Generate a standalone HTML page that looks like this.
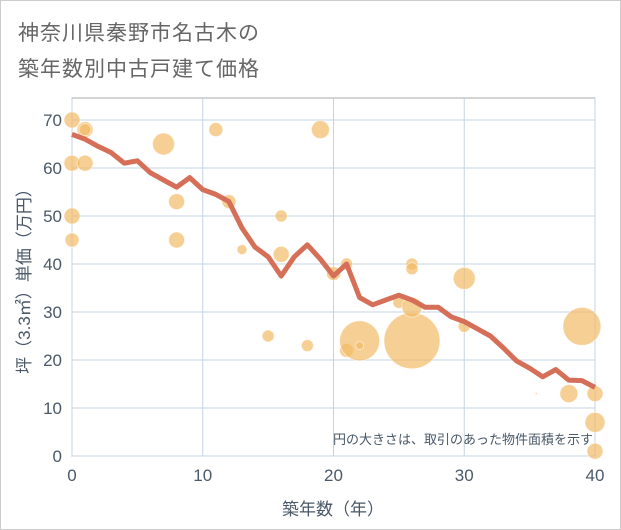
<!DOCTYPE html>
<html><head><meta charset="utf-8"><style>
body{margin:0;background:#fff;}
#wrap{position:relative;width:619px;height:528px;border:1px solid #ccc;background:#fff;font-family:"Liberation Sans","Noto Sans CJK JP",sans-serif;}
.title{position:absolute;left:17px;color:#666;font-size:21px;letter-spacing:1px;}
</style></head><body>
<div id="wrap">
<div class="title" style="top:16px">神奈川県秦野市名古木の</div>
<div class="title" style="top:52px">築年数別中古戸建て価格</div>
<svg id="chart" width="621" height="530" style="position:absolute;left:-1px;top:-1px"></svg>
</div>
<script>
const xTicks=[0,10,20,30,40];
const yTicks=[0,10,20,30,40,50,60,70];
const lineYears=[0,1,2,3,4,5,6,7,8,9,10,11,12,13,14,15,16,17,18,19,20,21,22,23,24,25,26,27,28,29,30,31,32,33,34,35,36,37,38,39,40];
const linePrices=[67,66,64.5,63.2,61,61.5,59,57.5,56,58,55.5,54.5,53,47.5,43.5,41.5,37.5,41.5,44,41,37.5,40,33,31.5,32.5,33.5,32.5,31,31,29,28,26.5,25,22.5,19.8,18.3,16.5,18,15.8,15.7,14.3];
const bubbleYears=[0,1,1,0,1,0,0,7,8,8,11,12,13,16,16,15,18,19,20,21,21,22,22,25,26,26,26,26,30,30,38,39,40,40,40,35.5];
const bubblePrices=[70,68,68,61,61,50,45,65,53,45,68,53,43,50,42,25,23,68,38,40,22,24,23,32,40,39,24,31,37,27,13,27,13,7,1,13];
const bubbleSizes=[8,8,6,8,8,8,7,11,8,8,7,7,5,6,8,6,6,9,7,6,7,20,4,6,6,6,28,10,11,6,9,19,8,10,8,1];
const svg=document.getElementById('chart');const NS='http://www.w3.org/2000/svg';
const X0=72,X1=595,Y0=456,Y1=120;
const xs=v=>X0+(X1-X0)*v/40, ys=v=>Y0-(Y0-Y1)*v/70;
function mk(t,a,p){const e=document.createElementNS(NS,t);for(const k in a)e.setAttribute(k,a[k]);(p||svg).appendChild(e);return e;}
const frame=mk('rect',{x:X0,y:98,width:X1-X0,height:Y0-98,fill:'none',stroke:'#aaa'});


xTicks.forEach(t=>{const l=mk('line',{x1:xs(t),x2:xs(t),y1:98,y2:Y0,stroke:'#c5d3e0'});


const tx=mk('text',{x:xs(t),y:481,'text-anchor':'middle','font-size':17,fill:'#4a5868'});tx.textContent=t;

});
yTicks.forEach(t=>{const l=mk('line',{x1:X0,x2:X1,y1:ys(t),y2:ys(t),stroke:'#c5d3e0'});


const tx=mk('text',{x:62,y:ys(t)+6,'text-anchor':'end','font-size':17,fill:'#4a5868'});tx.textContent=t;

});
const g=mk('g',{});
bubbleYears.forEach((yr,i)=>{const c=mk('circle',{cx:xs(yr),cy:ys(bubblePrices[i]),r:bubbleSizes[i],fill:'#f2bb66','fill-opacity':0.7,stroke:'#fff','stroke-opacity':0.5},g);

});
const pl=mk('polyline',{points:lineYears.map((y,i)=>xs(y)+','+ys(linePrices[i])).join(' '),fill:'none',stroke:'#d66f58','stroke-width':5,'stroke-linejoin':'round'});


const note=mk('text',{x:593,y:444,'text-anchor':'end','font-size':13,fill:'#4a5868'});note.textContent='円の大きさは、取引のあった物件面積を示す';


const xt=mk('text',{x:333,y:515,'text-anchor':'middle','font-size':17,fill:'#4a5868'});xt.textContent='築年数（年）';


const yt=mk('text',{x:0,y:0,'text-anchor':'middle','font-size':17,fill:'#4a5868',transform:'translate(30,277) rotate(-90)'});yt.textContent='坪（3.3㎡）単価（万円）';


</script>
</body></html>
